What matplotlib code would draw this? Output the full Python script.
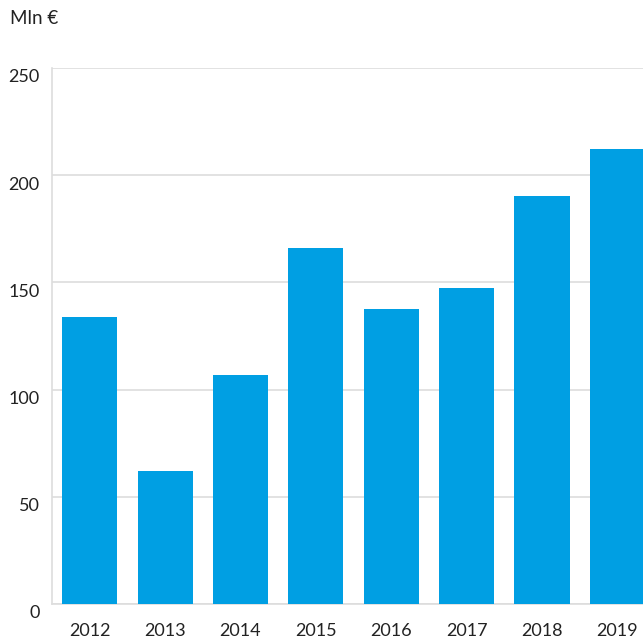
import matplotlib
matplotlib.use("Agg")
import matplotlib.pyplot as plt
from matplotlib.transforms import ScaledTranslation

years = ["2012", "2013", "2014", "2015", "2016", "2017", "2018", "2019"]
values = [134, 62, 107, 166, 137.6, 147.4, 190.3, 212.2]
yticks = [0, 50, 100, 150, 200, 250]

plt.rcParams['font.family'] = ['Lato', 'DejaVu Sans']

fig = plt.figure(figsize=(6.43, 6.43), dpi=100)
ax = fig.add_axes([52/643, 39/643, 1 - 52/643, (604-68)/643])

x = list(range(len(years)))
ax.bar(x, values, width=0.73, color="#009FE3", zorder=3)
ax.set_xlim(-0.5, 7.34)
ax.set_ylim(0, 250)
ax.set_yticks(yticks)
ax.set_yticklabels([str(v) for v in yticks])
ax.set_xticks(x)
ax.set_xticklabels(years)
ax.yaxis.grid(True, color="#dddddd", linewidth=1.2, zorder=0)
for s in ["top", "right"]:
    ax.spines[s].set_visible(False)
ax.spines["left"].set_color("#dddddd")
ax.spines["bottom"].set_color("#dddddd")
ax.spines["left"].set_linewidth(1.2)
ax.spines["bottom"].set_linewidth(1.2)
ax.tick_params(axis="both", length=0, labelsize=13, colors="#222222")
ax.tick_params(axis="y", pad=9)
ax.tick_params(axis="x", pad=14)
off = ScaledTranslation(0, -8/100, fig.dpi_scale_trans)
for lab in ax.get_yticklabels():
    lab.set_transform(lab.get_transform() + off)

fig.text(10/643, 1 - 18/643, "Mln €", fontsize=13.5, color="#222222", va="center", ha="left")

fig.savefig("out.png", dpi=100)
